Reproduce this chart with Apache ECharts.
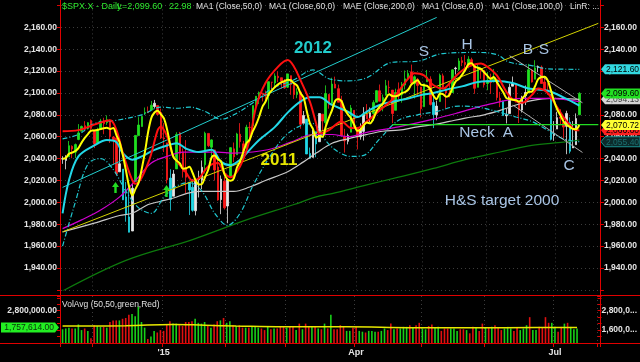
<!DOCTYPE html>
<html><head><meta charset="utf-8">
<script src="https://cdn.jsdelivr.net/npm/echarts/dist/echarts.min.js"></script>
<style>html,body{margin:0;padding:0;background:#000}#c{width:640px;height:362px}</style>
</head><body><div id="c"></div>
<script>
// ---------- DATA ----------
const tradingDays = [
 ['2014-11',[14,17,18,19,20,21,24,25,26,28]],
 ['2014-12',[1,2,3,4,5,8,9,10,11,12,15,16,17,18,19,22,23,24,26,29,30,31]],
 ['2015-01',[2,5,6,7,8,9,12,13,14,15,16,20,21,22,23,26,27,28,29,30]],
 ['2015-02',[2,3,4,5,6,9,10,11,12,13,17,18,19,20,23,24,25,26,27]],
 ['2015-03',[2,3,4,5,6,9,10,11,12,13,16,17,18,19,20,23,24,25,26,27,30,31]],
 ['2015-04',[1,2,6,7,8,9,10,13,14,15,16,17,20,21,22,23,24,27,28,29,30]],
 ['2015-05',[1,4,5,6,7,8,11,12,13,14,15,18,19,20,21,22,26,27,28,29]],
 ['2015-06',[1,2,3,4,5,8,9,10,11,12,15,16,17,18,19,22,23,24,25,26,29,30]],
 ['2015-07',[1,2,6,7,8,9,10,13]]
];
const opens = [2039.7,2038.3,2041.5,2051.2,2045.9,2057.5,2065.1,2070.1,2067.4,2074.8,
 2065.8,2054.0,2067.0,2073.6,2072.8,2074.8,2056.6,2058.9,2027.9,2030.4,2005.0,1986.7,1973.8,2018.9,2061.0,2069.3,2081.5,2083.3,2084.3,2087.6,2088.5,2082.1,
 2058.9,2054.4,2022.2,2005.6,2030.6,2063.5,2046.1,2031.6,2018.4,2013.8,1992.3,2020.8,2020.2,2034.3,2063.0,2050.4,2047.9,2032.3,2002.5,2019.4,
 1996.7,2022.7,2048.9,2043.5,2062.3,2053.5,2049.4,2068.6,2070.0,2088.8,2096.5,2099.2,2099.3,2097.7,2109.8,2109.1,2115.3,2113.9,2110.9,
 2105.2,2115.8,2107.7,2098.5,2100.9,2072.3,2076.1,2044.7,2041.1,2064.6,2055.4,2080.6,2072.8,2098.7,2090.3,2108.0,2103.9,2093.1,2059.9,2055.8,2064.1,2084.1,
 2067.6,2060.0,2064.9,2080.8,2076.9,2081.3,2091.5,2102.0,2092.3,2097.8,2105.0,2102.6,2084.1,2102.8,2098.3,2107.2,2112.8,2119.3,2108.4,2112.5,2105.5,
 2087.4,2110.2,2112.6,2091.3,2080.0,2092.1,2115.6,2102.9,2099.6,2100.4,2122.1,2121.3,2129.5,2127.8,2125.6,2130.4,2125.3,2105.1,2122.3,2120.7,
 2108.6,2110.4,2110.6,2112.4,2095.1,2092.3,2079.1,2081.1,2106.2,2107.4,2091.3,2084.3,2097.4,2101.6,2121.0,2112.5,2123.2,2123.6,2110.0,2102.6,2098.6,2061.2,
 2067.0,2078.0,2073.0,2069.5,2073.2,2049.7,2052.7,2080.0];
const highs = [2042.2,2043.1,2056.1,2052.1,2053.8,2071.5,2070.2,2074.2,2073.3,2075.8,
 2065.8,2068.2,2076.3,2077.3,2079.5,2075.8,2060.6,2058.9,2055.5,2030.4,2018.7,2016.9,2016.8,2061.2,2077.9,2078.8,2086.7,2087.6,2092.7,2093.6,2088.5,2085.7,
 2072.4,2054.4,2030.3,2029.6,2064.1,2064.4,2049.3,2056.9,2018.4,2021.4,2020.5,2028.9,2038.3,2064.6,2063.0,2057.6,2047.9,2042.5,2024.6,2023.3,
 2021.7,2050.3,2054.7,2063.6,2072.4,2056.2,2070.9,2073.5,2088.5,2097.0,2101.3,2100.2,2102.1,2110.6,2110.1,2117.9,2119.6,2113.9,2112.7,
 2117.5,2115.8,2107.7,2104.3,2100.9,2083.5,2076.1,2050.1,2066.4,2064.6,2081.4,2080.6,2106.9,2098.7,2113.9,2114.9,2107.6,2097.4,2067.2,2062.8,2089.0,2084.1,
 2067.6,2072.2,2087.0,2089.8,2086.7,2093.3,2102.6,2107.7,2098.6,2111.9,2111.3,2102.6,2103.9,2109.6,2110.0,2120.5,2120.9,2125.9,2116.0,2113.7,2105.5,
 2108.4,2121.0,2115.2,2098.4,2092.9,2117.7,2117.7,2105.1,2110.2,2121.5,2123.9,2131.8,2133.0,2134.7,2133.6,2132.2,2125.3,2126.2,2122.3,2120.7,
 2119.2,2117.6,2121.9,2112.9,2101.0,2093.0,2085.7,2108.5,2115.0,2107.4,2091.3,2097.4,2106.8,2126.6,2121.6,2129.9,2125.1,2125.1,2115.6,2108.9,2098.6,2074.3,
 2082.8,2085.1,2078.6,2083.7,2077.7,2074.3,2081.3,2100.7];
const lows = [2035.2,2030.2,2041.5,2040.4,2040.5,2056.8,2065.1,2064.8,2066.6,2065.1,
 2049.6,2054.0,2066.6,2062.3,2070.8,2054.3,2034.2,2024.3,2027.9,2002.3,1982.3,1972.6,1973.8,2018.9,2061.0,2069.3,2079.8,2081.9,2084.3,2085.8,2079.5,2057.9,
 2046.0,2017.3,1992.4,2005.6,2030.6,2038.3,2022.6,2008.3,1988.4,1991.5,1988.1,2004.5,2012.0,2026.4,2050.5,2041.0,2019.9,2001.5,1989.2,1993.4,
 1980.9,2022.7,2036.7,2043.5,2050.0,2041.9,2048.6,2058.0,2070.0,2086.7,2089.8,2092.2,2090.8,2085.4,2103.0,2105.9,2109.9,2103.8,2103.8,
 2104.5,2098.3,2094.5,2095.2,2067.3,2072.2,2044.2,2039.7,2041.1,2041.2,2055.4,2065.1,2061.2,2085.6,2090.3,2104.4,2091.5,2061.1,2045.5,2053.0,2064.1,2067.0,
 2048.4,2057.3,2056.5,2076.1,2073.3,2074.3,2091.5,2092.3,2083.2,2097.8,2100.0,2072.4,2084.1,2094.4,2091.1,2103.2,2112.8,2107.0,2094.9,2097.4,2077.6,
 2087.4,2110.2,2088.5,2067.9,2075.0,2092.1,2104.6,2085.6,2096.0,2100.4,2116.8,2120.0,2124.5,2122.6,2122.5,2126.1,2099.2,2105.1,2112.9,2104.9,
 2102.5,2099.1,2109.6,2093.2,2087.0,2079.1,2072.1,2081.1,2106.2,2091.3,2072.5,2082.1,2088.9,2101.6,2109.5,2112.5,2119.0,2108.6,2101.9,2098.2,2056.6,2056.3,
 2067.0,2071.0,2058.4,2044.0,2044.7,2049.7,2052.7,2080.0];
const closes = [2039.8,2041.3,2051.8,2048.7,2052.8,2063.5,2069.4,2067.0,2072.8,2067.6,
 2053.4,2066.6,2074.3,2071.9,2075.4,2060.3,2059.8,2026.1,2035.3,2002.3,1989.6,1972.7,2012.9,2061.2,2070.7,2078.5,2082.2,2081.9,2088.8,2090.6,2080.4,2058.9,
 2058.2,2020.6,2002.6,2025.9,2062.1,2044.8,2028.3,2023.0,2011.3,1992.7,2019.4,2022.6,2032.1,2063.2,2051.8,2057.1,2029.6,2002.2,2021.3,1995.0,
 2020.9,2050.0,2041.5,2062.5,2055.5,2046.7,2068.6,2068.5,2088.5,2097.0,2100.3,2099.7,2097.5,2110.3,2109.7,2115.5,2113.9,2110.7,2104.5,
 2117.4,2107.8,2098.5,2101.0,2071.3,2079.4,2044.2,2040.2,2066.0,2053.4,2081.2,2074.3,2099.5,2089.3,2108.1,2104.4,2091.5,2061.1,2056.2,2061.0,2086.2,2067.9,
 2059.7,2067.0,2080.6,2076.3,2081.9,2091.2,2102.1,2092.4,2095.8,2106.6,2105.0,2081.2,2100.4,2097.3,2108.0,2112.9,2117.7,2108.9,2114.8,2106.9,2085.5,
 2108.3,2114.5,2089.5,2080.2,2088.0,2116.1,2105.3,2099.9,2098.5,2121.1,2122.7,2129.2,2127.8,2125.9,2130.8,2126.1,2104.2,2123.5,2120.8,2107.4,
 2111.7,2109.6,2114.1,2095.8,2092.8,2079.3,2080.2,2105.2,2108.9,2094.1,2084.4,2096.3,2100.4,2121.2,2110.0,2122.9,2124.2,2108.6,2102.3,2101.5,2057.6,2063.1,
 2077.4,2076.8,2068.8,2081.3,2046.7,2051.3,2076.6,2099.6];
const volumes = [1650000,1700000,1750000,1700000,1700000,1950000,1600000,1700000,1550000,1100000,
 1900000,1850000,1800000,1800000,1750000,2100000,2200000,2200000,2200000,2300000,2350000,2550000,2600000,2450000,3050000,2100000,1750000,1050000,1200000,1550000,1450000,1600000,
 1550000,1950000,2150000,2000000,2000000,1900000,1850000,2100000,2100000,2150000,2300000,2050000,2000000,2100000,1850000,1750000,1950000,2150000,2200000,2350000,
 2050000,2150000,1900000,1850000,1900000,1750000,1750000,1750000,1850000,1800000,1750000,1700000,1600000,1850000,1650000,1700000,1700000,1800000,1800000,
 1750000,1800000,1800000,1600000,2000000,1650000,2000000,1850000,1850000,1850000,1700000,1650000,2000000,1700000,2550000,1650000,1650000,1900000,1800000,1550000,1550000,1750000,
 1800000,1550000,1500000,1450000,1550000,1550000,1500000,1500000,1550000,1700000,1600000,2000000,1650000,1700000,1700000,1800000,1800000,1900000,1750000,1900000,2050000,
 1700000,1650000,1850000,1950000,1750000,1800000,1550000,1700000,1700000,1700000,1700000,1550000,1650000,1650000,1600000,1400000,1800000,1750000,1550000,2000000,
 1750000,1750000,1800000,1900000,1750000,1600000,1700000,1800000,1700000,1550000,1750000,1600000,1700000,1900000,2400000,1600000,1600000,1800000,1750000,2400000,2050000,2050000,
 1800000,1500000,1800000,2000000,2050000,1800000,1650000,1700000];
// traced indicator lines: [bar index, value]
const ma20Line = [[0,1990],[2,2020],[5,2042],[10,2052],[14,2057],[17,2055],[19,2045],[22,2039],[25,2042],[29,2048],[33,2052],[36,2054],[39,2049],[43,2046],[47,2048],[50,2037],[53,2034],[56,2039],[59,2048],[62,2057],[67,2069],[71,2082],[75,2092],[78,2096],[81,2096],[85,2089],[90,2083],[93,2078],[96,2083],[100,2089],[104,2092],[109,2095],[113,2098],[117,2100],[121,2103],[126,2106],[131,2110],[137,2111],[142,2109],[147,2104],[153,2102],[158,2096],[163,2088.5]];
const redLine = [[0,2065],[5,2066],[11,2072],[15,2075],[17,2066],[19,2045],[22,2020],[23,2017],[27,2036],[30,2066],[31,2069],[33,2060],[35,2042],[39,2027],[41,2020],[43,2022],[46,2033],[49,2036],[51,2027],[53,2023],[56,2033],[59,2057],[61,2087],[64,2109],[68,2124],[71,2130],[73,2124],[75,2112],[78,2092],[80,2072],[81,2063],[84,2066],[88,2074],[91,2068],[93,2068],[96,2074],[100,2084],[104,2094],[109,2113],[111,2118],[114,2116],[117,2107],[120,2104],[123,2112],[125,2118],[128,2124],[132,2127],[134,2124],[137,2116],[140,2101],[142,2094],[145,2091],[148,2098],[150,2104],[153,2100],[156,2087],[158,2078],[160,2071],[162,2066],[163,2066]];
const ma50Line = [[0,1976],[6,1984],[12,1993],[18,2005],[23,2020],[28,2036],[33,2042],[38,2046],[43,2046],[49,2046],[54,2045],[60,2046],[66,2049],[72,2055],[79,2062],[85,2062],[90,2060],[96,2064],[106,2069],[117,2076],[125,2082],[135,2090],[145,2095],[153,2095],[163,2092]];
const ma100Line = [[0,1973],[10,1981],[18,1988],[22,1990],[27,1998],[31,2001],[35,2004],[39,2008],[43,2010],[49,2010],[54,2010],[59,2014],[64,2020],[71,2028],[76,2037],[80,2045],[85,2054],[90,2058],[96,2062],[101,2065],[106,2066],[112,2069],[117,2071],[122,2074],[127,2077],[133,2080],[138,2084],[143,2089],[148,2093],[154,2095],[163,2094.13]];
const ma200Line = [[0,1919],[20,1947],[41,1966],[58,1984],[73,1998],[80,2005],[85,2008],[96,2016],[106,2023],[117,2031],[127,2039],[138,2046],[148,2052],[158,2055],[163,2057]];
const upperBand = [[0,2058],[5,2062],[10,2072],[17,2075],[25,2080],[31,2087],[36,2086],[40,2087],[45,2083],[50,2076],[54,2080],[61,2093],[66,2104],[73,2112],[79,2121],[84,2113],[90,2111],[96,2114],[104,2128],[112,2129],[120,2136],[131,2137],[137,2135],[141,2128],[148,2125],[153,2122],[163,2121.6]];
const lowerBand = [[0,1960],[4,2000],[8,2035],[12,2040],[16,2030],[20,2010],[24,1995],[28,1990],[32,2005],[36,2015],[40,2018],[44,2010],[48,1990],[52,1979],[56,1990],[60,2015],[65,2040],[70,2060],[75,2070],[79,2072],[82,2060],[86,2048],[91,2042],[95,2043],[100,2058],[106,2075],[112,2080],[118,2083],[125,2088],[131,2087],[137,2083],[143,2078],[148,2074],[153,2066],[158,2058],[163,2055.4]];
const volAvgLine = [[0,1850000],[20,1870000],[35,1950000],[45,1900000],[55,1850000],[70,1800000],[90,1800000],[110,1750000],[130,1740000],[150,1760000],[163,1757614]];
// drawn trend lines
const line2012 = [[0,2013.7],[118,2169]];
const line2011 = [[0,1973],[169,2163.6]];
const channelTop = [[141,2134],[164,2091]];
const channelBottom = [[142,2089],[164,2045.6]];
const neckLine = [[104,2071],[169,2071]];
const xTickDates = ['2015-01-02','2015-04-01','2015-07-01'];
const xTickLabels = ["'15",'Apr','Jul'];
const priceTicks = [1940,1960,1980,2000,2020,2040,2060,2080,2100,2120,2140,2160];
const volTicksLeft = [2800000];
const volTicksRight = [1600000,2800000];

// ---------- BUILD ----------
const dates = [];
tradingDays.forEach(([m, ds]) => ds.forEach(d => dates.push(m + '-' + String(d).padStart(2,'0'))));
const N = dates.length;
const cats = dates.concat(['p1','p2','p3','p4','p5','p6']);
const monthStart = new Set();
for (let i = 1; i < N; i++) if (dates[i].slice(0,7) !== dates[i-1].slice(0,7)) monthStart.add(i);
const fmt2 = v => v.toLocaleString('en-US',{minimumFractionDigits:2,maximumFractionDigits:2});
const last = a => a[a.length-1][1];
function at(pts, i){ for (let k=1;k<pts.length;k++){ if (i<=pts[k][0]){ const [x0,y0]=pts[k-1],[x1,y1]=pts[k]; return y0+(y1-y0)*(i-x0)/(x1-x0);} } return pts[pts.length-1][1]; }
const ma6 = closes.map((c,i) => { const s = closes.slice(Math.max(0,i-5), i+1); return +(s.reduce((a,b)=>a+b,0)/s.length).toFixed(2); });

const GREEN='#1fe01f', RED='#ff1a1a', WHITE='#e6e6e6', CYAN='#1fd8e6';
const candleData = opens.map((o,i) => {
  const prev = i ? closes[i-1] : o, c = closes[i];
  let col;
  if (c >= prev) col = (c >= at(ma20Line,i) && (c - prev) / prev > 0.001) ? GREEN : WHITE;
  else col = c < at(lowerBand,i) ? CYAN : RED;
  return {value:[o,c,lows[i],highs[i]], itemStyle:{color:col,color0:col,borderColor:col,borderColor0:col,borderWidth:0.8}};
});
const volData = volumes.map((v,i) => ({value:v, itemStyle:{color: (i ? closes[i] >= closes[i-1] : closes[i] >= opens[i]) ? '#18d018' : '#e01010'}}));

const lineS = (data, color, width, extra) => Object.assign({type:'line', data, xAxisIndex:0, yAxisIndex:0, symbol:'none', showSymbol:false, silent:true, smooth:0.35, z:3, lineStyle:{color, width}}, extra||{});
const axisFont = {color:'#e4e4e4', fontSize:8.5, fontWeight:'bold', fontFamily:'Liberation Sans, Arial'};
const hdrFont = '8.5px "Liberation Sans", Arial';
const hdr = (t, x, fill, font) => ({type:'text', x, y:7, z:11, style:{text:t, fill, font:font||hdrFont, textVerticalAlign:'middle', verticalAlign:'middle'}});
const hdrGreen = '9px "Liberation Sans", Arial';

const option = {
  backgroundColor:'#000', animation:false,
  grid:[{left:61, right:40, top:5.4, height:284.5}, {left:61, right:40, top:296, height:47}],
  xAxis:[
    {type:'category', data:cats, gridIndex:0, axisLabel:{show:false}, axisTick:{show:false}, axisLine:{show:false},
     splitLine:{show:true, interval:(i)=>monthStart.has(i), lineStyle:{color:'#3c3c3c', type:[1,3]}}},
    {type:'category', data:cats, gridIndex:1, axisLine:{show:false},
     axisTick:{show:true, interval:(i)=>monthStart.has(i), length:4, lineStyle:{color:'#e00000'}},
     axisLabel:{interval:(i,v)=>xTickDates.includes(v), formatter:(v)=>xTickLabels[xTickDates.indexOf(v)] || '', margin:5, ...axisFont, fontSize:9},
     splitLine:{show:true, interval:(i)=>monthStart.has(i), lineStyle:{color:'#3c3c3c', type:[1,3]}}}
  ],
  yAxis:[
    {type:'value', gridIndex:0, position:'left', min:1920, max:2180, interval:20,
     axisLine:{show:false}, axisTick:{show:true, length:4, lineStyle:{color:'#e00000'}},
     axisLabel:{margin:4, formatter:v=>priceTicks.includes(v)?fmt2(v):'', ...axisFont},
     splitLine:{show:true, lineStyle:{color:'#3c3c3c', type:[1,3]}}},
    {type:'value', gridIndex:0, position:'right', min:1920, max:2180, interval:20,
     axisLine:{show:false}, axisTick:{show:true, length:4, lineStyle:{color:'#e00000'}},
     axisLabel:{margin:4, formatter:v=>priceTicks.includes(v)?fmt2(v):'', ...axisFont}, splitLine:{show:false}},
    {type:'value', gridIndex:1, position:'left', min:800000, max:3710000, interval:400000,
     axisLine:{show:false}, axisTick:{show:true, length:4, lineStyle:{color:'#e00000'}},
     axisLabel:{margin:4, formatter:v=>volTicksLeft.includes(v)?fmt2(v):'', ...axisFont}, splitLine:{show:false}},
    {type:'value', gridIndex:1, position:'right', min:800000, max:3710000, interval:400000,
     axisLine:{show:false}, axisTick:{show:true, length:4, lineStyle:{color:'#e00000'}},
     axisLabel:{margin:4, formatter:v=>volTicksRight.includes(v)?fmt2(v).slice(0,7)+'...':'', ...axisFont}, splitLine:{show:false}}
  ],
  series:[
    {type:'candlestick', xAxisIndex:0, yAxisIndex:0, data:candleData, barWidth:2, z:2, silent:true},
    lineS(ma200Line,'#0d7a0d',1.2),
    lineS(ma100Line,'#c8c8c8',1.2),
    lineS(ma50Line,'#d000d0',1.2),
    lineS(upperBand,'#1fc8d0',1.2,{lineStyle:{color:'#1fc8d0',width:1.2,type:[5,2,1,2]}}),
    lineS(lowerBand,'#1fc8d0',1.2,{lineStyle:{color:'#1fc8d0',width:1.2,type:[5,2,1,2]}}),
    lineS(line2012,'#22cccc',1,{smooth:false}),
    lineS(line2011,'#d4d400',1,{smooth:false}),
    lineS(channelTop,'#b0b0b0',1,{smooth:false}),
    lineS(channelBottom,'#b0b0b0',1,{smooth:false}),
    lineS(neckLine,'#22dd22',1.2,{smooth:false}),
    lineS(ma20Line,'#22d8e8',2,{z:4}),
    lineS(redLine,'#ff1010',2,{z:5}),
    lineS(ma6,'#ffff00',2,{z:6, smooth:0.3}),
    {type:'bar', xAxisIndex:1, yAxisIndex:2, data:volData, barWidth:1.6, silent:true},
    {type:'line', xAxisIndex:1, yAxisIndex:2, data:volAvgLine, symbol:'none', smooth:0.4, silent:true, z:4, lineStyle:{color:'#e8e800', width:1.5}}
  ],
  graphic:[
    {type:'line', shape:{x1:60.5,y1:0,x2:60.5,y2:347}, style:{stroke:'#e00000',lineWidth:1}, z:10},
    {type:'line', shape:{x1:600.5,y1:0,x2:600.5,y2:347}, style:{stroke:'#e00000',lineWidth:1}, z:10},
    {type:'line', shape:{x1:0,y1:295.5,x2:640,y2:295.5}, style:{stroke:'#e00000',lineWidth:1}, z:10},
    {type:'line', shape:{x1:0,y1:343.5,x2:640,y2:343.5}, style:{stroke:'#e00000',lineWidth:1}, z:10},
    hdr('$SPX.X - Daily', 62, '#2ee82e', hdrGreen), hdr('L=2,099.60', 117, '#2ee82e', hdrGreen), hdr('22.98', 169, '#2ee82e', hdrGreen),
    hdr('MA1 (Close,50,0)', 196, '#e0e0e0'), hdr('MA1 (Close,60,0)', 269, '#e0e0e0'), hdr('MAE (Close,200,0)', 343, '#e0e0e0'),
    hdr('MA1 (Close,6,0)', 422, '#e0e0e0'), hdr('MA1 (Close,100,0)', 492, '#e0e0e0'), hdr('LinR: ...', 570, '#e0e0e0'),
    {type:'text', x:62, y:305, z:11, style:{text:'VolAvg (50,50,green,Red)', fill:'#e0e0e0', font:hdrFont, textVerticalAlign:'middle', verticalAlign:'middle'}},
    {type:'text', x:313, y:48, style:{text:'2012', fill:'#22cccc', font:'bold 17px "Liberation Sans", Arial', textAlign:'center', align:'center', textVerticalAlign:'middle', verticalAlign:'middle'}, z:11},
    {type:'text', x:279, y:160, style:{text:'2011', fill:'#e6e600', font:'bold 17px "Liberation Sans", Arial', textAlign:'center', align:'center', textVerticalAlign:'middle', verticalAlign:'middle'}, z:11},
    ...[['S',424,52],['H',467,45],['B',528,50],['S',544,50],['Neck',477,133],['A',508,133],['C',569,166],['H&S target 2000',502,201]].map(([t,x,y])=>(
      {type:'text', x, y, style:{text:t, fill:'#a8c4e4', font:'15.5px "Liberation Sans", Arial', textAlign:'center', align:'center', textVerticalAlign:'middle', verticalAlign:'middle'}, z:11})),
    {type:'polygon', shape:{points:[[115.5,182],[119,187],[116.7,187],[116.7,193],[114.3,193],[114.3,187],[112,187]]}, style:{fill:'#22dd22'}, z:11},
    {type:'polygon', shape:{points:[[166.5,185],[170,190],[167.7,190],[167.7,197],[165.3,197],[165.3,190],[163,190]]}, style:{fill:'#22dd22'}, z:11}
  ]
};
const chart = echarts.init(document.getElementById('c'), null, {renderer:'canvas'});
chart.setOption(option);

// value tags placed through the axes' own scales
const tagFont = '8.5px "Liberation Sans", Arial';
const tags = [
  {v:last(lowerBand), axis:0, bg:'#0c2b2b', fg:'#1a7070', stroke:'#1a9090'},
  {v:last(ma100Line), axis:0, bg:'#d4d4d4', fg:'#404040'},
  {v:last(upperBand), axis:0, bg:'#33d8e0', fg:'#000'},
  {v:closes[N-1], axis:0, bg:'#22e022', fg:'#000'},
  {v:last(redLine), axis:0, bg:'#ff2020', fg:'#000'},
  {v:ma6[N-1], axis:0, bg:'#ffff33', fg:'#000'}
];
const extra = [];
tags.forEach((t, k) => {
  const y = chart.convertToPixel({yAxisIndex:t.axis}, t.v), h = 10;
  extra.push({type:'polygon', z:20+2*k, shape:{points:[[601,y],[605,y-h/2],[640,y-h/2],[640,y+h/2],[605,y+h/2]]}, style:{fill:t.bg, stroke:t.stroke||null, lineWidth:1}});
  extra.push({type:'text', z:21+2*k, x:606, y:y+0.5, style:{text:fmt2(t.v), fill:t.fg, font:tagFont, textVerticalAlign:'middle', verticalAlign:'middle'}});
});
{
  const v = last(volAvgLine), y = chart.convertToPixel({yAxisIndex:2}, v), h = 10;
  extra.push({type:'polygon', z:40, shape:{points:[[1,y-h/2],[55,y-h/2],[59,y],[55,y+h/2],[1,y+h/2]]}, style:{fill:'#22ee22'}});
  extra.push({type:'text', z:41, x:54, y:y+0.5, style:{text:fmt2(v), fill:'#0a300a', font:tagFont, textAlign:'right', align:'right', textVerticalAlign:'middle', verticalAlign:'middle'}});
}
option.graphic = option.graphic.concat(extra);
chart.setOption(option, true);
</script></body></html>
